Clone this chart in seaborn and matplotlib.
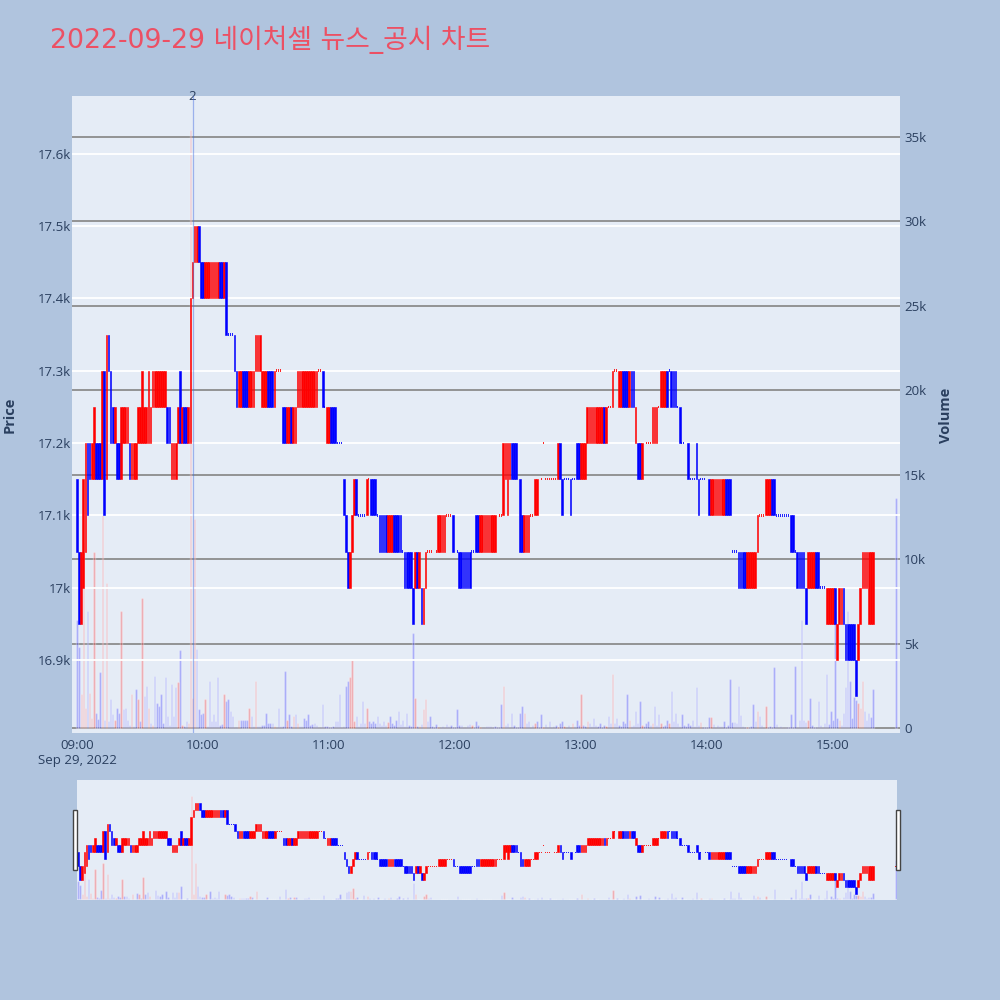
import matplotlib

matplotlib.use("Agg")  # no display in the sandbox
import matplotlib.pyplot as plt
from matplotlib.patches import Rectangle
import seaborn as sns
import numpy as np
import pandas as pd

TITLE = "2022-09-29 네이처셀 뉴스_공시 차트"

# one candle per minute from 09:00 (minute 0) to 15:19, plus the 15:30 closing auction
opens = [
    17150, 17050, 16950, 17000, 17050, 17200, 17200, 17150, 17150, 17200,
    17200, 17200, 17150, 17300, 17150, 17350, 17300, 17250, 17200, 17200,
    17200, 17150, 17200, 17200, 17200, 17200, 17150, 17150, 17150, 17200,
    17200, 17200, 17200, 17200, 17200, 17200, 17250, 17250, 17250, 17250,
    17250, 17250, 17250, 17250, 17250, 17150, 17150, 17150, 17200, 17300,
    17200, 17250, 17250, 17200, 17200, 17400, 17450, 17450, 17500, 17450,
    17450, 17400, 17400, 17400, 17400, 17400, 17400, 17400, 17450, 17450,
    17400, 17450, 17350, 17350, 17350, 17350, 17300, 17250, 17250, 17300,
    17300, 17300, 17250, 17250, 17250, 17300, 17300, 17300, 17250, 17250,
    17250, 17300, 17300, 17300, 17250, 17300, 17300, 17300, 17250, 17250,
    17200, 17200, 17250, 17200, 17200, 17250, 17250, 17250, 17250, 17250,
    17250, 17250, 17250, 17250, 17250, 17300, 17300, 17300, 17250, 17200,
    17200, 17250, 17250, 17250, 17200, 17200, 17200, 17150, 17100, 17050,
    17000, 17050, 17100, 17150, 17100, 17100, 17100, 17100, 17100, 17150,
    17150, 17150, 17150, 17100, 17100, 17100, 17100, 17100, 17050, 17050,
    17050, 17100, 17100, 17100, 17100, 17050, 17050, 17050, 17050, 17050,
    17000, 17000, 17050, 17000, 17000, 16950, 17000, 17050, 17050, 17050,
    17050, 17050, 17050, 17050, 17050, 17050, 17100, 17100, 17100, 17100,
    17050, 17050, 17050, 17050, 17050, 17050, 17050, 17050, 17050, 17050,
    17100, 17100, 17050, 17050, 17050, 17050, 17050, 17050, 17050, 17050,
    17100, 17100, 17100, 17100, 17150, 17100, 17150, 17200, 17200, 17200,
    17150, 17150, 17100, 17050, 17050, 17050, 17100, 17100, 17100, 17100,
    17150, 17150, 17200, 17150, 17150, 17150, 17150, 17150, 17150, 17150,
    17200, 17150, 17150, 17150, 17150, 17150, 17150, 17150, 17200, 17200,
    17150, 17150, 17150, 17200, 17200, 17200, 17200, 17200, 17200, 17200,
    17200, 17250, 17200, 17250, 17250, 17250, 17300, 17300, 17250, 17250,
    17300, 17300, 17300, 17250, 17300, 17300, 17200, 17200, 17200, 17150,
    17200, 17200, 17200, 17200, 17200, 17200, 17200, 17250, 17250, 17250,
    17250, 17300, 17300, 17300, 17300, 17300, 17250, 17250, 17200, 17200,
    17200, 17200, 17150, 17150, 17150, 17200, 17150, 17150, 17150, 17150,
    17150, 17150, 17100, 17100, 17100, 17100, 17100, 17100, 17100, 17150,
    17150, 17150, 17050, 17050, 17050, 17050, 17050, 17050, 17050, 17000,
    17000, 17000, 17000, 17000, 17050, 17100, 17100, 17100, 17100, 17100,
    17100, 17150, 17150, 17100, 17100, 17100, 17100, 17100, 17100, 17100,
    17100, 17100, 17050, 17050, 17050, 17050, 17050, 17000, 17000, 17000,
    17000, 17000, 17050, 17050, 17000, 17000, 17000, 16950, 16950, 16950,
    16950, 17000, 16900, 16950, 16950, 17000, 16950, 16950, 16950, 16950,
    16950, 16900, 16900, 16950, 17000, 17000, 17000, 16950, 16950, 16950,
]
closes = [
    17050, 16950, 17050, 17150, 17200, 17100, 17150, 17200, 17250, 17150,
    17150, 17150, 17300, 17100, 17350, 17300, 17200, 17200, 17250, 17150,
    17150, 17250, 17250, 17250, 17250, 17150, 17200, 17200, 17200, 17250,
    17250, 17300, 17250, 17250, 17300, 17250, 17300, 17300, 17300, 17300,
    17300, 17300, 17300, 17200, 17200, 17200, 17200, 17200, 17250, 17200,
    17250, 17200, 17200, 17250, 17400, 17450, 17500, 17500, 17450, 17400,
    17400, 17450, 17450, 17450, 17450, 17450, 17450, 17450, 17400, 17400,
    17450, 17350, 17350, 17350, 17350, 17300, 17250, 17300, 17300, 17250,
    17250, 17250, 17300, 17300, 17300, 17350, 17350, 17350, 17300, 17300,
    17300, 17250, 17250, 17250, 17300, 17300, 17300, 17300, 17200, 17200,
    17250, 17250, 17200, 17250, 17250, 17300, 17300, 17300, 17300, 17300,
    17300, 17300, 17300, 17300, 17300, 17300, 17300, 17250, 17250, 17250,
    17250, 17200, 17200, 17200, 17200, 17200, 17200, 17100, 17050, 17000,
    17050, 17100, 17150, 17100, 17100, 17100, 17100, 17100, 17150, 17150,
    17100, 17100, 17100, 17100, 17050, 17050, 17050, 17050, 17100, 17100,
    17100, 17050, 17050, 17050, 17050, 17050, 17000, 17000, 17000, 17000,
    16950, 17050, 17000, 17050, 16950, 17000, 17050, 17050, 17050, 17050,
    17050, 17050, 17100, 17100, 17100, 17100, 17100, 17100, 17100, 17050,
    17050, 17050, 17000, 17000, 17000, 17000, 17000, 17000, 17050, 17050,
    17050, 17050, 17100, 17100, 17100, 17100, 17100, 17100, 17100, 17100,
    17100, 17100, 17100, 17200, 17200, 17200, 17200, 17150, 17150, 17150,
    17150, 17050, 17050, 17100, 17100, 17100, 17100, 17100, 17150, 17150,
    17150, 17150, 17200, 17150, 17150, 17150, 17150, 17150, 17150, 17200,
    17150, 17100, 17150, 17150, 17150, 17100, 17150, 17150, 17150, 17150,
    17200, 17200, 17200, 17250, 17250, 17250, 17250, 17250, 17250, 17250,
    17250, 17200, 17250, 17250, 17250, 17300, 17300, 17300, 17300, 17300,
    17250, 17250, 17250, 17300, 17250, 17250, 17250, 17150, 17150, 17200,
    17200, 17200, 17200, 17200, 17250, 17250, 17250, 17250, 17300, 17300,
    17300, 17250, 17300, 17250, 17250, 17250, 17250, 17200, 17200, 17200,
    17200, 17150, 17150, 17150, 17150, 17150, 17100, 17150, 17150, 17150,
    17150, 17100, 17150, 17150, 17150, 17150, 17150, 17150, 17150, 17100,
    17100, 17100, 17050, 17050, 17050, 17000, 17000, 17000, 17000, 17050,
    17050, 17050, 17050, 17050, 17100, 17100, 17100, 17100, 17150, 17150,
    17150, 17100, 17100, 17100, 17100, 17100, 17100, 17100, 17100, 17100,
    17050, 17050, 17050, 17000, 17000, 17000, 17000, 16950, 17050, 17050,
    17050, 17050, 17000, 17000, 17000, 17000, 17000, 17000, 17000, 17000,
    17000, 16950, 16950, 17000, 17000, 16950, 16900, 16900, 16900, 16900,
    16900, 16850, 16950, 17000, 17050, 17050, 17050, 17050, 17050, 17050,
]
volumes = [
    6400, 4800, 2000, 11000, 1200, 6900, 2100, 600, 10400, 900,
    550, 3300, 12600, 500, 8600, 400, 1700, 800, 500, 1200,
    900, 6900, 1100, 1200, 500, 200, 2000, 100, 2300, 1700,
    400, 7700, 1900, 2500, 1200, 300, 200, 3100, 1500, 1300,
    2000, 300, 3000, 700, 200, 2600, 700, 2400, 2700, 4600,
    200, 100, 400, 300, 35400, 1800, 12400, 4700, 1100, 850,
    900, 1700, 100, 2800, 400, 800, 400, 3000, 200, 250,
    2000, 1600, 1700, 1000, 700, 50, 50, 500, 500, 500,
    500, 500, 1200, 700, 100, 2800, 100, 100, 200, 200,
    900, 300, 300, 300, 100, 50, 1200, 100, 100, 3400,
    500, 800, 100, 700, 850, 300, 100, 100, 600, 500,
    800, 200, 250, 300, 200, 50, 50, 1400, 100, 100,
    50, 50, 100, 400, 400, 2000, 50, 100, 2500, 2800,
    3000, 4000, 400, 700, 100, 300, 1600, 300, 1200, 400,
    300, 400, 300, 700, 300, 200, 400, 200, 350, 700,
    300, 150, 500, 1000, 250, 450, 120, 900, 200, 100,
    5600, 1800, 100, 100, 250, 1100, 1700, 400, 700, 100,
    50, 250, 50, 50, 120, 50, 250, 100, 150, 50,
    50, 1100, 150, 150, 50, 50, 150, 250, 150, 50,
    400, 150, 50, 50, 50, 100, 100, 120, 50, 100,
    50, 50, 1400, 2500, 200, 300, 50, 900, 150, 50,
    50, 900, 1300, 900, 300, 400, 50, 150, 300, 400,
    50, 800, 50, 250, 50, 400, 50, 100, 200, 50,
    300, 400, 100, 50, 200, 50, 300, 100, 500, 200,
    2000, 200, 100, 400, 300, 100, 600, 200, 100, 300,
    50, 200, 100, 700, 300, 3200, 300, 600, 200, 100,
    400, 300, 2000, 500, 100, 200, 1000, 300, 1600, 200,
    100, 300, 400, 200, 300, 1300, 200, 800, 300, 100,
    200, 500, 300, 2200, 400, 900, 300, 100, 800, 200,
    100, 300, 200, 500, 100, 2400, 200, 370, 50, 50,
    50, 630, 630, 240, 50, 180, 140, 120, 430, 50,
    180, 2900, 340, 340, 280, 2500, 770, 120, 80, 50,
    50, 120, 1400, 430, 1000, 700, 180, 50, 1300, 50,
    120, 80, 3600, 240, 50, 120, 50, 80, 50, 80,
    830, 50, 3700, 50, 500, 6400, 500, 370, 470, 1750,
    180, 50, 50, 1600, 180, 50, 320, 3200, 240, 1000,
    470, 6900, 570, 470, 180, 870, 2400, 6900, 2800, 570,
    1850, 1660, 1460, 1160, 2800, 1000, 470, 870, 670, 2300,
]
auction_minute = 390
auction_price = 17050
auction_volume = 13600

news_minute = 55
news_label = "2"

hour_ticks = [0, 60, 120, 180, 240, 300, 360]
hour_labels = ["09:00\nSep 29, 2022", "10:00", "11:00", "12:00", "13:00", "14:00", "15:00"]
price_ticks = [16900, 17000, 17100, 17200, 17300, 17400, 17500, 17600]
volume_ticks = [0, 5000, 10000, 15000, 20000, 25000, 30000, 35000]

BG = "#B0C4DE"
PLOT_BG = "#E5ECF6"
UP = "#FF0000"
DOWN = "#0000FF"
TEXT = "#2A3F5F"

sns.set_style("white")
plt.rcParams["font.family"] = ["Open Sans", "Noto Sans CJK KR", "DejaVu Sans"]

df = pd.DataFrame(
    {
        "minute": list(range(len(closes))) + [auction_minute],
        "open": opens + [auction_price],
        "close": closes + [auction_price],
        "volume": volumes + [auction_volume],
    }
)
# flat candles keep the colour of the previous move
direction = []
last = "down"
for o, c in zip(df["open"], df["close"]):
    if c > o:
        last = "up"
    elif c < o:
        last = "down"
    direction.append(last)
df["dir"] = direction
# volume bars: red when the close is above the previous minute's close
prev_close = df["close"].shift(1).fillna(df["open"].iloc[0])
df["vol_dir"] = np.where(df["close"] > prev_close, "up", "down")
df["low"] = df[["open", "close"]].min(axis=1)
df["body"] = (df["close"] - df["open"]).abs()
palette = {"up": UP, "down": DOWN}


def draw_candles(ax, flat_h):
    moves = df[df["body"] > 0]
    flats = df[df["body"] == 0]
    mc = moves["dir"].map(palette)
    ax.bar(moves["minute"], moves["body"], bottom=moves["low"], width=0.8,
           color=mc, edgecolor=mc, linewidth=0.4, zorder=3)
    fc = flats["dir"].map(palette)
    ax.bar(flats["minute"], flat_h, bottom=flats["low"] - flat_h / 2, width=0.45,
           color=fc, linewidth=0, alpha=0.85, zorder=3)


def draw_volume(ax):
    sns.barplot(data=df, x="minute", y="volume", hue="vol_dir", palette=palette,
                native_scale=True, dodge=False, width=0.7, errorbar=None,
                legend=False, alpha=0.3, saturation=1, ax=ax)


def clean(ax):
    for s in ax.spines.values():
        s.set_visible(False)
    ax.set_xlabel("")
    ax.set_ylabel("")


fig = plt.figure(figsize=(10, 10), dpi=100, facecolor=BG)

# main chart: volume behind, price in front
rect = [0.072, 0.267, 0.828, 0.637]
ax_vol = fig.add_axes(rect, facecolor=PLOT_BG)
draw_volume(ax_vol)
ax_vol.set_ylim(-296, 37430)
ax_vol.yaxis.tick_right()
ax_vol.set_yticks(volume_ticks)
ax_vol.set_yticklabels(["0"] + [f"{v // 1000}k" for v in volume_ticks[1:]])
ax_vol.grid(axis="y", color="#8C8C8C", linewidth=1.3)
ax_vol.grid(axis="x", visible=False)
ax_vol.set_axisbelow(True)
ax_vol.tick_params(axis="y", length=0, pad=3, labelsize=9.5, labelcolor=TEXT)
ax_vol.tick_params(axis="x", bottom=False, labelbottom=False)
clean(ax_vol)

ax_price = fig.add_axes(rect, sharex=ax_vol)
ax_price.patch.set_visible(False)
draw_candles(ax_price, 3.5)
ax_price.set_ylim(16799, 17680)
ax_price.set_yticks(price_ticks)
ax_price.set_yticklabels([f"{p / 1000:.1f}k".replace(".0k", "k") for p in price_ticks])
ax_price.grid(axis="y", color="white", linewidth=1.3)
ax_price.grid(axis="x", visible=False)
ax_price.set_axisbelow(True)
ax_price.set_xlim(-2.4, 391.9)
ax_price.set_xticks(hour_ticks)
ax_price.set_xticklabels(hour_labels, linespacing=1.2)
ax_price.tick_params(axis="y", length=0, pad=1, labelsize=9.5, labelcolor=TEXT)
ax_price.tick_params(axis="x", length=0, pad=4, labelsize=9.5, labelcolor=TEXT)
clean(ax_price)

# news marker
ax_price.axvline(news_minute, color="royalblue", alpha=0.45, linewidth=0.9, zorder=4)
ax_price.text(news_minute, 17680, news_label, ha="center", va="center",
              fontsize=9.5, color=TEXT, clip_on=False)

fig.text(0.010, 0.585, "Price", rotation=90, ha="center", va="center",
         fontsize=10.5, fontweight="bold", color=TEXT)
fig.text(0.946, 0.585, "Volume", rotation=90, ha="center", va="center",
         fontsize=10.5, fontweight="bold", color=TEXT)
fig.text(0.050, 0.960, TITLE, ha="left", va="center", fontsize=19.3,
         color="#EC5064", family=["DejaVu Sans", "Noto Sans CJK KR"])

# range slider copy
srect = [0.077, 0.100, 0.820, 0.120]
ax_svol = fig.add_axes(srect, facecolor=PLOT_BG)
draw_volume(ax_svol)
ax_svol.set_ylim(-200, 40800)
ax_svol.set_xticks([])
ax_svol.set_yticks([])
clean(ax_svol)

ax_sprice = fig.add_axes(srect, sharex=ax_svol)
ax_sprice.patch.set_visible(False)
draw_candles(ax_sprice, 7)
ax_sprice.set_ylim(16807, 17667)
ax_sprice.set_xlim(-0.5, 390.5)
ax_sprice.set_xticks([])
ax_sprice.set_yticks([])
ax_sprice.grid(False)
clean(ax_sprice)

for hx in (0.073, 0.896):
    fig.patches.append(Rectangle((hx, 0.130), 0.004, 0.060, transform=fig.transFigure,
                                 facecolor="white", edgecolor="#444444", linewidth=1))

fig.savefig("out.png", dpi=100, facecolor=BG)
